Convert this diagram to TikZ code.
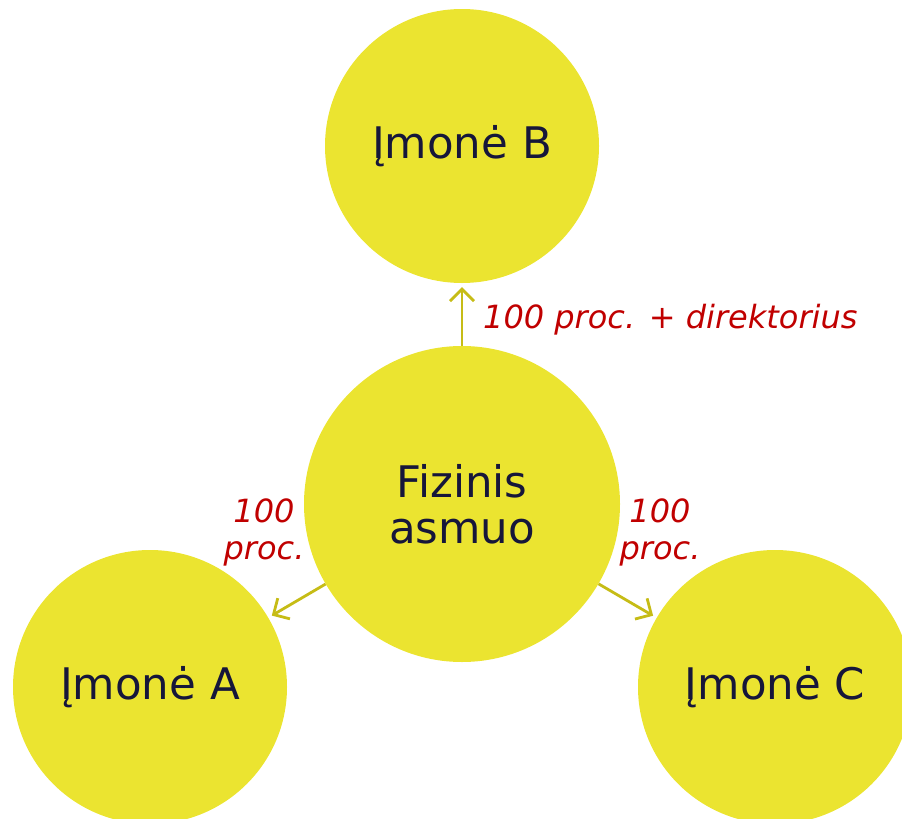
\documentclass[tikz,border=0pt]{standalone}
\usepackage{fontspec}
\setmainfont{DejaVu Sans}
\usetikzlibrary{arrows.meta}

\definecolor{imyellow}{RGB}{235,228,48}
\definecolor{imarrow}{RGB}{198,188,22}
\definecolor{imtext}{RGB}{22,22,58}
\definecolor{imred}{RGB}{192,0,0}

\tikzset{
	firm/.style={circle,fill=imyellow,inner sep=0pt,minimum size=274pt,text=imtext,font=\fontsize{43.5}{46}\selectfont,align=center},
	owner/.style={firm,minimum size=316pt},
	share/.style={draw=imarrow,line width=2.8pt,-{Straight Barb[length=12pt,width=24pt]},shorten >=4pt},
	tag/.style={text=imred,font=\fontsize{32}{37}\selectfont\itshape,align=center,inner sep=0pt}
}

\begin{document}
\begin{tikzpicture}[x=1pt,y=-1pt]

	% frame
	\useasboundingbox (0,0) rectangle (902,819);
	\clip (0,0) rectangle (902,819);

	% circles
	\node[firm] (b) at (462,146) {Įmonė B};
	\node[owner] (fiz) at (462,504) {Fizinis\\asmuo};
	\node[firm] (a) at (150,687) {Įmonė A};
	\node[firm] (c) at (775,687) {Įmonė C};

	% ownership arrows
	\draw[share] (fiz) -- (b);
	\draw[share] (fiz) -- (a);
	\draw[share] (fiz) -- (c);

	% arrow labels
	\node[tag,anchor=west] (tb) at (483,320) {100 proc. + direktorius};
	\node[tag] (ta) at (264,532) {100\\proc.};
	\node[tag] (tc) at (660,532) {100\\proc.};

\end{tikzpicture}
\end{document}
